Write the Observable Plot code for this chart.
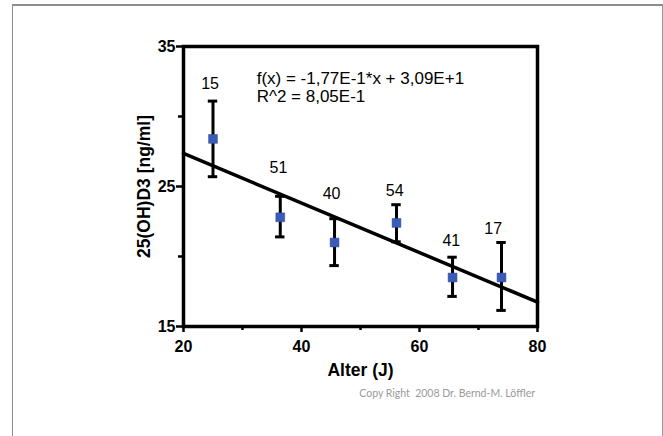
<!DOCTYPE html>
<html><head><meta charset="utf-8">
<script src="https://cdn.jsdelivr.net/npm/d3@7"></script>
<script src="https://cdn.jsdelivr.net/npm/@observablehq/plot@0.6"></script>
<style>
body{margin:0;background:#fff;}
#wrap{position:relative;width:663px;height:436px;overflow:hidden;background:#fff;}
#border{position:absolute;left:12px;top:4px;width:649px;height:500px;border-left:1.5px solid #8c8c8c;border-top:2px solid #8c8c8c;border-right:1.5px solid #9a9a9a;}
#chart{position:absolute;left:0;top:0;}
</style></head><body>
<div id="wrap"><div id="border"></div><div id="chart"></div></div>
<script>
// Data
const ages   = [25.0, 36.4, 45.6, 56.1, 65.6, 73.9];
const means  = [28.4, 22.8, 21.0, 22.4, 18.5, 18.5];
const upper  = [31.1, 24.3, 22.7, 23.7, 19.95, 21.0];
const lower  = [25.7, 21.4, 19.35, 21.05, 17.15, 16.15];
const counts = ["15", "51", "40", "54", "41", "17"];
const labelX = [24.5, 36.1, 45.1, 55.8, 65.4, 72.5];
const labelY = [32.35, 26.3, 24.5, 24.7, 21.15, 22.0];
const fitX = [20, 80];
const fitY = [27.36, 16.74];
const equationLines = ["f(x) = -1,77E-1*x + 3,09E+1", "R^2 = 8,05E-1"];
const equationX = [32.4, 32.4];
const equationY = [32.7, 31.4];
const xTicks = [20, 40, 60, 80];
const xMinor = [30, 50, 70];
const yTicks = [15, 25, 35];
const yMinor = [20, 30];
const copyright = ["Copy Right  2008 Dr. Bernd-M. Löffler"];
const copyrightX = [49.8];
const copyrightY = [10.2];

const pts = ages.map((a, i) => ({age: a, mean: means[i], hi: upper[i], lo: lower[i]}));
const labels = counts.map((c, i) => ({t: c, x: labelX[i], y: labelY[i]}));
const fit = fitX.map((x, i) => ({x, y: fitY[i]}));
const eq = equationLines.map((t, i) => ({t, x: equationX[i], y: equationY[i]}));
const cr = copyright.map((t, i) => ({t, x: copyrightX[i], y: copyrightY[i]}));
const capHalf = 0.8;

const chart = Plot.plot({
  width: 663,
  height: 436,
  marginLeft: 183,
  marginRight: 126,
  marginTop: 46,
  marginBottom: 110,
  style: {fontFamily: "'Liberation Sans', Arial, sans-serif", color: "#000", background: "transparent", overflow: "visible"},
  x: {domain: [20, 80]},
  y: {domain: [15, 35]},
  marks: [
    Plot.axisX(xTicks, {tickSize: 6, tickPadding: 8, strokeWidth: 2.5, fontSize: 16, fontWeight: "bold",
      label: "Alter (J)", labelAnchor: "center", labelOffset: 49, labelArrow: "none"}),
    Plot.axisX(xMinor, {tickSize: 4, strokeWidth: 2.5, tickFormat: () => "", label: null}),
    Plot.axisY(yTicks, {tickSize: 7, tickPadding: 1, strokeWidth: 2.5, fontSize: 16, fontWeight: "bold",
      label: "25(OH)D3 [ng/ml]", labelAnchor: "center", labelOffset: 46, labelArrow: "none"}),
    Plot.axisY(yMinor, {tickSize: 5, strokeWidth: 2.5, tickFormat: () => "", label: null}),
    Plot.frame({stroke: "#000", strokeWidth: 3.5}),
    Plot.line(fit, {x: "x", y: "y", stroke: "#000", strokeWidth: 3.5}),
    Plot.ruleX(pts, {x: "age", y1: "lo", y2: "hi", stroke: "#000", strokeWidth: 3}),
    Plot.ruleY(pts, {y: "hi", x1: d => d.age - capHalf, x2: d => d.age + capHalf, stroke: "#000", strokeWidth: 3}),
    Plot.ruleY(pts, {y: "lo", x1: d => d.age - capHalf, x2: d => d.age + capHalf, stroke: "#000", strokeWidth: 3}),
    Plot.dot(pts, {x: "age", y: "mean", symbol: "square", r: 5, fill: "#3a5cb8", stroke: "#2c4a9a", strokeWidth: 0.5}),
    Plot.text(labels, {x: "x", y: "y", text: "t", fontSize: 16, fill: "#000", textAnchor: "middle"}),
    Plot.text(eq, {x: "x", y: "y", text: "t", fontSize: 17, fill: "#000", textAnchor: "start"}),
    Plot.text(cr, {x: "x", y: "y", text: "t", fontSize: 10.5, fill: "#9a9a9a", textAnchor: "start", fontFamily: "Lato, 'Open Sans', sans-serif"})
  ]
});
// slightly larger axis titles, as in the reference
chart.querySelectorAll("text").forEach(t => {
  if (t.textContent === "Alter (J)" || t.textContent === "25(OH)D3 [ng/ml]") t.setAttribute("font-size", "17.5");
});
document.getElementById("chart").appendChild(chart);
</script>
</body></html>
